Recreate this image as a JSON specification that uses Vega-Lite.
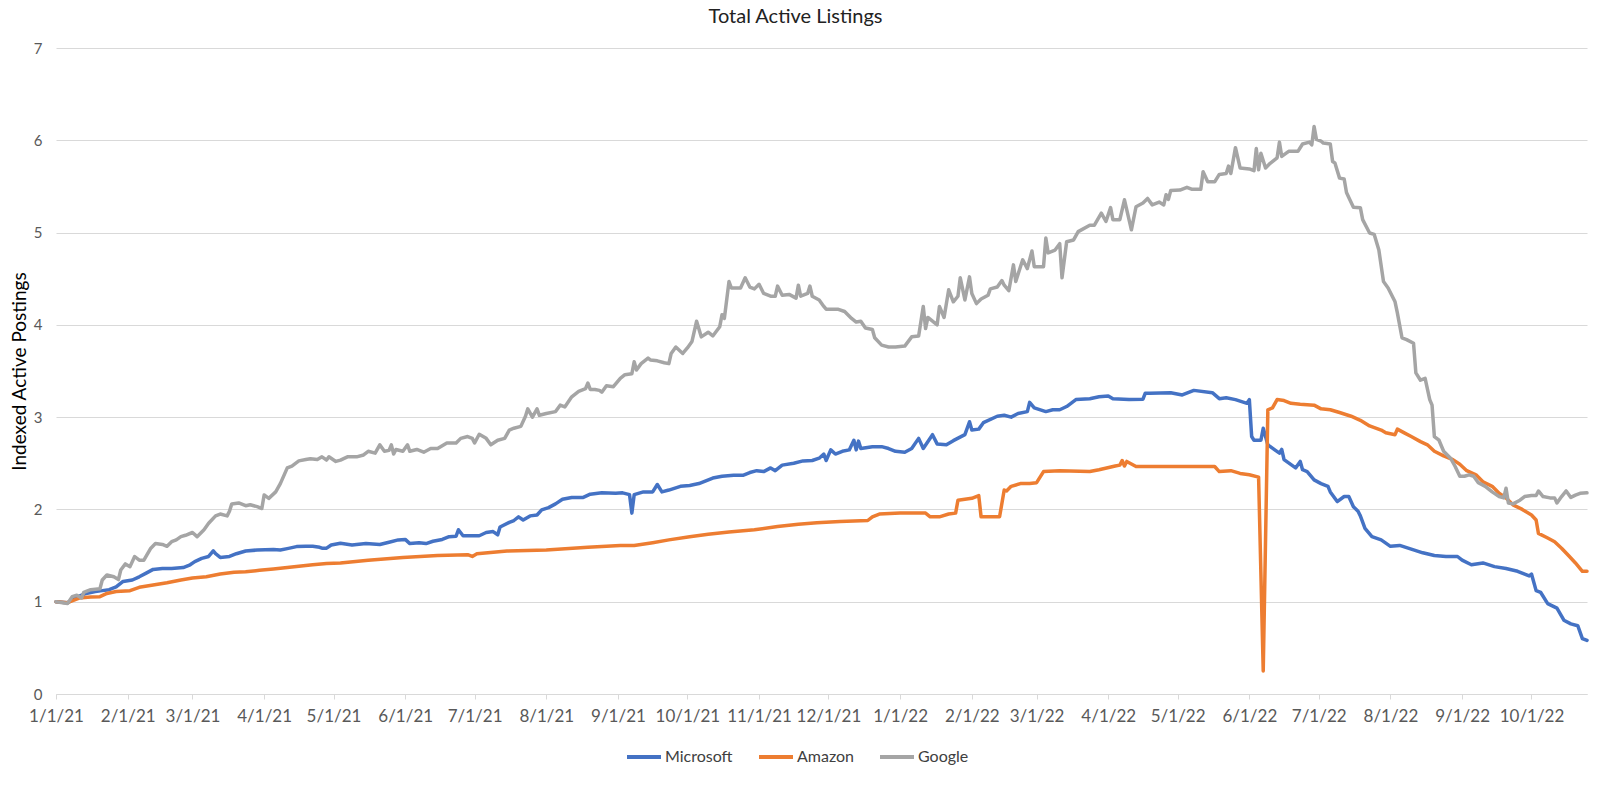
{
  "$schema": "https://vega.github.io/schema/vega-lite/v6.json",
  "autosize": {"type": "none"},
  "width": 1531,
  "height": 646,
  "padding": {"left": 56, "top": 48, "right": 13, "bottom": 91},
  "background": "white",
  "title": {"text": "Total Active Listings", "font": "Lato", "fontSize": 20, "fontWeight": "normal", "color": "#222222", "anchor": "middle", "dx": -26, "offset": 14},
  "config": {
    "view": {"stroke": null},
    "axis": {"labelFont": "Lato", "titleFont": "Lato", "labelColor": "#595959", "gridColor": "#d9d9d9", "gridWidth": 1, "domainColor": "#d9d9d9", "tickColor": "#d9d9d9"}
  },
  "data": {"values": [
    {"date":"2021-01-01","company":"Microsoft","value":1.00},
    {"date":"2021-01-06","company":"Microsoft","value":0.99},
    {"date":"2021-01-10","company":"Microsoft","value":1.05},
    {"date":"2021-01-14","company":"Microsoft","value":1.09},
    {"date":"2021-01-18","company":"Microsoft","value":1.11},
    {"date":"2021-01-21","company":"Microsoft","value":1.12},
    {"date":"2021-01-24","company":"Microsoft","value":1.13},
    {"date":"2021-01-27","company":"Microsoft","value":1.16},
    {"date":"2021-01-30","company":"Microsoft","value":1.22},
    {"date":"2021-02-03","company":"Microsoft","value":1.235},
    {"date":"2021-02-06","company":"Microsoft","value":1.27},
    {"date":"2021-02-09","company":"Microsoft","value":1.31},
    {"date":"2021-02-12","company":"Microsoft","value":1.35},
    {"date":"2021-02-16","company":"Microsoft","value":1.36},
    {"date":"2021-02-20","company":"Microsoft","value":1.36},
    {"date":"2021-02-25","company":"Microsoft","value":1.37},
    {"date":"2021-02-28","company":"Microsoft","value":1.40},
    {"date":"2021-03-02","company":"Microsoft","value":1.435},
    {"date":"2021-03-05","company":"Microsoft","value":1.47},
    {"date":"2021-03-08","company":"Microsoft","value":1.49},
    {"date":"2021-03-10","company":"Microsoft","value":1.55},
    {"date":"2021-03-11","company":"Microsoft","value":1.52},
    {"date":"2021-03-13","company":"Microsoft","value":1.48},
    {"date":"2021-03-17","company":"Microsoft","value":1.49},
    {"date":"2021-03-20","company":"Microsoft","value":1.52},
    {"date":"2021-03-24","company":"Microsoft","value":1.55},
    {"date":"2021-03-29","company":"Microsoft","value":1.56},
    {"date":"2021-04-05","company":"Microsoft","value":1.565},
    {"date":"2021-04-08","company":"Microsoft","value":1.56},
    {"date":"2021-04-11","company":"Microsoft","value":1.575},
    {"date":"2021-04-15","company":"Microsoft","value":1.597},
    {"date":"2021-04-19","company":"Microsoft","value":1.60},
    {"date":"2021-04-22","company":"Microsoft","value":1.60},
    {"date":"2021-04-25","company":"Microsoft","value":1.59},
    {"date":"2021-04-26","company":"Microsoft","value":1.58},
    {"date":"2021-04-28","company":"Microsoft","value":1.58},
    {"date":"2021-04-30","company":"Microsoft","value":1.615},
    {"date":"2021-05-04","company":"Microsoft","value":1.634},
    {"date":"2021-05-09","company":"Microsoft","value":1.615},
    {"date":"2021-05-15","company":"Microsoft","value":1.63},
    {"date":"2021-05-21","company":"Microsoft","value":1.62},
    {"date":"2021-05-25","company":"Microsoft","value":1.645},
    {"date":"2021-05-29","company":"Microsoft","value":1.67},
    {"date":"2021-06-01","company":"Microsoft","value":1.675},
    {"date":"2021-06-03","company":"Microsoft","value":1.63},
    {"date":"2021-06-07","company":"Microsoft","value":1.64},
    {"date":"2021-06-10","company":"Microsoft","value":1.63},
    {"date":"2021-06-13","company":"Microsoft","value":1.655},
    {"date":"2021-06-17","company":"Microsoft","value":1.675},
    {"date":"2021-06-20","company":"Microsoft","value":1.705},
    {"date":"2021-06-23","company":"Microsoft","value":1.71},
    {"date":"2021-06-24","company":"Microsoft","value":1.78},
    {"date":"2021-06-26","company":"Microsoft","value":1.715},
    {"date":"2021-07-03","company":"Microsoft","value":1.715},
    {"date":"2021-07-06","company":"Microsoft","value":1.75},
    {"date":"2021-07-09","company":"Microsoft","value":1.76},
    {"date":"2021-07-11","company":"Microsoft","value":1.725},
    {"date":"2021-07-12","company":"Microsoft","value":1.81},
    {"date":"2021-07-16","company":"Microsoft","value":1.86},
    {"date":"2021-07-18","company":"Microsoft","value":1.88},
    {"date":"2021-07-20","company":"Microsoft","value":1.92},
    {"date":"2021-07-22","company":"Microsoft","value":1.885},
    {"date":"2021-07-25","company":"Microsoft","value":1.93},
    {"date":"2021-07-28","company":"Microsoft","value":1.94},
    {"date":"2021-07-30","company":"Microsoft","value":1.995},
    {"date":"2021-08-02","company":"Microsoft","value":2.02},
    {"date":"2021-08-05","company":"Microsoft","value":2.06},
    {"date":"2021-08-08","company":"Microsoft","value":2.11},
    {"date":"2021-08-12","company":"Microsoft","value":2.13},
    {"date":"2021-08-17","company":"Microsoft","value":2.13},
    {"date":"2021-08-20","company":"Microsoft","value":2.165},
    {"date":"2021-08-25","company":"Microsoft","value":2.18},
    {"date":"2021-08-31","company":"Microsoft","value":2.175},
    {"date":"2021-09-03","company":"Microsoft","value":2.18},
    {"date":"2021-09-06","company":"Microsoft","value":2.16},
    {"date":"2021-09-07","company":"Microsoft","value":1.96},
    {"date":"2021-09-08","company":"Microsoft","value":2.16},
    {"date":"2021-09-12","company":"Microsoft","value":2.19},
    {"date":"2021-09-16","company":"Microsoft","value":2.19},
    {"date":"2021-09-18","company":"Microsoft","value":2.27},
    {"date":"2021-09-20","company":"Microsoft","value":2.19},
    {"date":"2021-09-23","company":"Microsoft","value":2.21},
    {"date":"2021-09-28","company":"Microsoft","value":2.25},
    {"date":"2021-10-02","company":"Microsoft","value":2.26},
    {"date":"2021-10-06","company":"Microsoft","value":2.28},
    {"date":"2021-10-09","company":"Microsoft","value":2.31},
    {"date":"2021-10-12","company":"Microsoft","value":2.34},
    {"date":"2021-10-16","company":"Microsoft","value":2.36},
    {"date":"2021-10-21","company":"Microsoft","value":2.37},
    {"date":"2021-10-25","company":"Microsoft","value":2.37},
    {"date":"2021-10-28","company":"Microsoft","value":2.40},
    {"date":"2021-10-31","company":"Microsoft","value":2.42},
    {"date":"2021-11-03","company":"Microsoft","value":2.41},
    {"date":"2021-11-06","company":"Microsoft","value":2.45},
    {"date":"2021-11-08","company":"Microsoft","value":2.42},
    {"date":"2021-11-11","company":"Microsoft","value":2.48},
    {"date":"2021-11-16","company":"Microsoft","value":2.50},
    {"date":"2021-11-20","company":"Microsoft","value":2.526},
    {"date":"2021-11-24","company":"Microsoft","value":2.53},
    {"date":"2021-11-27","company":"Microsoft","value":2.555},
    {"date":"2021-11-29","company":"Microsoft","value":2.60},
    {"date":"2021-11-30","company":"Microsoft","value":2.53},
    {"date":"2021-12-02","company":"Microsoft","value":2.645},
    {"date":"2021-12-04","company":"Microsoft","value":2.60},
    {"date":"2021-12-07","company":"Microsoft","value":2.63},
    {"date":"2021-12-10","company":"Microsoft","value":2.645},
    {"date":"2021-12-12","company":"Microsoft","value":2.75},
    {"date":"2021-12-13","company":"Microsoft","value":2.645},
    {"date":"2021-12-14","company":"Microsoft","value":2.74},
    {"date":"2021-12-15","company":"Microsoft","value":2.66},
    {"date":"2021-12-20","company":"Microsoft","value":2.68},
    {"date":"2021-12-24","company":"Microsoft","value":2.68},
    {"date":"2021-12-27","company":"Microsoft","value":2.66},
    {"date":"2021-12-30","company":"Microsoft","value":2.63},
    {"date":"2022-01-03","company":"Microsoft","value":2.62},
    {"date":"2022-01-06","company":"Microsoft","value":2.66},
    {"date":"2022-01-09","company":"Microsoft","value":2.77},
    {"date":"2022-01-11","company":"Microsoft","value":2.66},
    {"date":"2022-01-15","company":"Microsoft","value":2.81},
    {"date":"2022-01-17","company":"Microsoft","value":2.71},
    {"date":"2022-01-21","company":"Microsoft","value":2.70},
    {"date":"2022-01-24","company":"Microsoft","value":2.745},
    {"date":"2022-01-29","company":"Microsoft","value":2.81},
    {"date":"2022-01-31","company":"Microsoft","value":2.95},
    {"date":"2022-02-01","company":"Microsoft","value":2.86},
    {"date":"2022-02-04","company":"Microsoft","value":2.87},
    {"date":"2022-02-06","company":"Microsoft","value":2.94},
    {"date":"2022-02-12","company":"Microsoft","value":3.01},
    {"date":"2022-02-15","company":"Microsoft","value":3.02},
    {"date":"2022-02-18","company":"Microsoft","value":3.00},
    {"date":"2022-02-21","company":"Microsoft","value":3.04},
    {"date":"2022-02-25","company":"Microsoft","value":3.06},
    {"date":"2022-02-26","company":"Microsoft","value":3.16},
    {"date":"2022-02-28","company":"Microsoft","value":3.10},
    {"date":"2022-03-05","company":"Microsoft","value":3.06},
    {"date":"2022-03-08","company":"Microsoft","value":3.08},
    {"date":"2022-03-11","company":"Microsoft","value":3.08},
    {"date":"2022-03-14","company":"Microsoft","value":3.115},
    {"date":"2022-03-18","company":"Microsoft","value":3.19},
    {"date":"2022-03-24","company":"Microsoft","value":3.20},
    {"date":"2022-03-28","company":"Microsoft","value":3.22},
    {"date":"2022-04-01","company":"Microsoft","value":3.23},
    {"date":"2022-04-03","company":"Microsoft","value":3.20},
    {"date":"2022-04-10","company":"Microsoft","value":3.19},
    {"date":"2022-04-16","company":"Microsoft","value":3.195},
    {"date":"2022-04-17","company":"Microsoft","value":3.26},
    {"date":"2022-04-19","company":"Microsoft","value":3.26},
    {"date":"2022-04-28","company":"Microsoft","value":3.265},
    {"date":"2022-05-03","company":"Microsoft","value":3.24},
    {"date":"2022-05-08","company":"Microsoft","value":3.29},
    {"date":"2022-05-16","company":"Microsoft","value":3.265},
    {"date":"2022-05-19","company":"Microsoft","value":3.20},
    {"date":"2022-05-22","company":"Microsoft","value":3.21},
    {"date":"2022-05-26","company":"Microsoft","value":3.19},
    {"date":"2022-05-31","company":"Microsoft","value":3.15},
    {"date":"2022-06-01","company":"Microsoft","value":3.19},
    {"date":"2022-06-02","company":"Microsoft","value":2.79},
    {"date":"2022-06-03","company":"Microsoft","value":2.75},
    {"date":"2022-06-06","company":"Microsoft","value":2.75},
    {"date":"2022-06-07","company":"Microsoft","value":2.88},
    {"date":"2022-06-09","company":"Microsoft","value":2.70},
    {"date":"2022-06-12","company":"Microsoft","value":2.645},
    {"date":"2022-06-14","company":"Microsoft","value":2.61},
    {"date":"2022-06-15","company":"Microsoft","value":2.65},
    {"date":"2022-06-16","company":"Microsoft","value":2.54},
    {"date":"2022-06-21","company":"Microsoft","value":2.45},
    {"date":"2022-06-23","company":"Microsoft","value":2.52},
    {"date":"2022-06-24","company":"Microsoft","value":2.43},
    {"date":"2022-06-26","company":"Microsoft","value":2.41},
    {"date":"2022-06-29","company":"Microsoft","value":2.32},
    {"date":"2022-07-02","company":"Microsoft","value":2.28},
    {"date":"2022-07-05","company":"Microsoft","value":2.25},
    {"date":"2022-07-06","company":"Microsoft","value":2.19},
    {"date":"2022-07-09","company":"Microsoft","value":2.085},
    {"date":"2022-07-12","company":"Microsoft","value":2.14},
    {"date":"2022-07-14","company":"Microsoft","value":2.14},
    {"date":"2022-07-16","company":"Microsoft","value":2.03},
    {"date":"2022-07-18","company":"Microsoft","value":1.98},
    {"date":"2022-07-19","company":"Microsoft","value":1.93},
    {"date":"2022-07-21","company":"Microsoft","value":1.795},
    {"date":"2022-07-24","company":"Microsoft","value":1.705},
    {"date":"2022-07-28","company":"Microsoft","value":1.67},
    {"date":"2022-08-01","company":"Microsoft","value":1.60},
    {"date":"2022-08-05","company":"Microsoft","value":1.61},
    {"date":"2022-08-10","company":"Microsoft","value":1.57},
    {"date":"2022-08-15","company":"Microsoft","value":1.53},
    {"date":"2022-08-20","company":"Microsoft","value":1.50},
    {"date":"2022-08-25","company":"Microsoft","value":1.49},
    {"date":"2022-08-30","company":"Microsoft","value":1.49},
    {"date":"2022-09-01","company":"Microsoft","value":1.45},
    {"date":"2022-09-05","company":"Microsoft","value":1.40},
    {"date":"2022-09-10","company":"Microsoft","value":1.42},
    {"date":"2022-09-15","company":"Microsoft","value":1.38},
    {"date":"2022-09-20","company":"Microsoft","value":1.36},
    {"date":"2022-09-25","company":"Microsoft","value":1.33},
    {"date":"2022-09-30","company":"Microsoft","value":1.28},
    {"date":"2022-10-01","company":"Microsoft","value":1.30},
    {"date":"2022-10-03","company":"Microsoft","value":1.12},
    {"date":"2022-10-05","company":"Microsoft","value":1.10},
    {"date":"2022-10-08","company":"Microsoft","value":0.98},
    {"date":"2022-10-12","company":"Microsoft","value":0.93},
    {"date":"2022-10-15","company":"Microsoft","value":0.80},
    {"date":"2022-10-18","company":"Microsoft","value":0.76},
    {"date":"2022-10-21","company":"Microsoft","value":0.74},
    {"date":"2022-10-23","company":"Microsoft","value":0.60},
    {"date":"2022-10-25","company":"Microsoft","value":0.58},
    {"date":"2021-01-01","company":"Amazon","value":1.00},
    {"date":"2021-01-06","company":"Amazon","value":0.99},
    {"date":"2021-01-11","company":"Amazon","value":1.04},
    {"date":"2021-01-16","company":"Amazon","value":1.05},
    {"date":"2021-01-20","company":"Amazon","value":1.055},
    {"date":"2021-01-23","company":"Amazon","value":1.09},
    {"date":"2021-01-27","company":"Amazon","value":1.11},
    {"date":"2021-02-02","company":"Amazon","value":1.12},
    {"date":"2021-02-06","company":"Amazon","value":1.156},
    {"date":"2021-02-12","company":"Amazon","value":1.18},
    {"date":"2021-02-18","company":"Amazon","value":1.205},
    {"date":"2021-02-24","company":"Amazon","value":1.236},
    {"date":"2021-03-01","company":"Amazon","value":1.258},
    {"date":"2021-03-07","company":"Amazon","value":1.27},
    {"date":"2021-03-13","company":"Amazon","value":1.30},
    {"date":"2021-03-19","company":"Amazon","value":1.32},
    {"date":"2021-03-24","company":"Amazon","value":1.325},
    {"date":"2021-03-30","company":"Amazon","value":1.34},
    {"date":"2021-04-05","company":"Amazon","value":1.355},
    {"date":"2021-04-11","company":"Amazon","value":1.37},
    {"date":"2021-04-16","company":"Amazon","value":1.385},
    {"date":"2021-04-22","company":"Amazon","value":1.40},
    {"date":"2021-04-28","company":"Amazon","value":1.415},
    {"date":"2021-05-04","company":"Amazon","value":1.42},
    {"date":"2021-05-16","company":"Amazon","value":1.45},
    {"date":"2021-05-31","company":"Amazon","value":1.48},
    {"date":"2021-06-15","company":"Amazon","value":1.50},
    {"date":"2021-06-28","company":"Amazon","value":1.51},
    {"date":"2021-06-30","company":"Amazon","value":1.49},
    {"date":"2021-07-02","company":"Amazon","value":1.52},
    {"date":"2021-07-15","company":"Amazon","value":1.55},
    {"date":"2021-08-01","company":"Amazon","value":1.56},
    {"date":"2021-08-19","company":"Amazon","value":1.59},
    {"date":"2021-09-02","company":"Amazon","value":1.61},
    {"date":"2021-09-08","company":"Amazon","value":1.61},
    {"date":"2021-09-16","company":"Amazon","value":1.64},
    {"date":"2021-09-23","company":"Amazon","value":1.67},
    {"date":"2021-10-02","company":"Amazon","value":1.705},
    {"date":"2021-10-10","company":"Amazon","value":1.73},
    {"date":"2021-10-19","company":"Amazon","value":1.756},
    {"date":"2021-10-30","company":"Amazon","value":1.78},
    {"date":"2021-11-09","company":"Amazon","value":1.815},
    {"date":"2021-11-18","company":"Amazon","value":1.84},
    {"date":"2021-11-26","company":"Amazon","value":1.855},
    {"date":"2021-12-06","company":"Amazon","value":1.87},
    {"date":"2021-12-18","company":"Amazon","value":1.88},
    {"date":"2021-12-20","company":"Amazon","value":1.92},
    {"date":"2021-12-23","company":"Amazon","value":1.95},
    {"date":"2022-01-01","company":"Amazon","value":1.96},
    {"date":"2022-01-12","company":"Amazon","value":1.96},
    {"date":"2022-01-14","company":"Amazon","value":1.92},
    {"date":"2022-01-18","company":"Amazon","value":1.92},
    {"date":"2022-01-22","company":"Amazon","value":1.95},
    {"date":"2022-01-25","company":"Amazon","value":1.96},
    {"date":"2022-01-26","company":"Amazon","value":2.10},
    {"date":"2022-01-29","company":"Amazon","value":2.11},
    {"date":"2022-02-01","company":"Amazon","value":2.12},
    {"date":"2022-02-04","company":"Amazon","value":2.15},
    {"date":"2022-02-05","company":"Amazon","value":1.92},
    {"date":"2022-02-13","company":"Amazon","value":1.92},
    {"date":"2022-02-15","company":"Amazon","value":2.21},
    {"date":"2022-02-16","company":"Amazon","value":2.20},
    {"date":"2022-02-18","company":"Amazon","value":2.25},
    {"date":"2022-02-22","company":"Amazon","value":2.28},
    {"date":"2022-02-26","company":"Amazon","value":2.28},
    {"date":"2022-03-01","company":"Amazon","value":2.29},
    {"date":"2022-03-04","company":"Amazon","value":2.41},
    {"date":"2022-03-11","company":"Amazon","value":2.42},
    {"date":"2022-03-24","company":"Amazon","value":2.41},
    {"date":"2022-03-28","company":"Amazon","value":2.43},
    {"date":"2022-04-04","company":"Amazon","value":2.47},
    {"date":"2022-04-06","company":"Amazon","value":2.48},
    {"date":"2022-04-07","company":"Amazon","value":2.53},
    {"date":"2022-04-08","company":"Amazon","value":2.47},
    {"date":"2022-04-09","company":"Amazon","value":2.52},
    {"date":"2022-04-13","company":"Amazon","value":2.465},
    {"date":"2022-05-17","company":"Amazon","value":2.465},
    {"date":"2022-05-19","company":"Amazon","value":2.41},
    {"date":"2022-05-24","company":"Amazon","value":2.42},
    {"date":"2022-05-28","company":"Amazon","value":2.39},
    {"date":"2022-06-01","company":"Amazon","value":2.375},
    {"date":"2022-06-05","company":"Amazon","value":2.35},
    {"date":"2022-06-07","company":"Amazon","value":0.25},
    {"date":"2022-06-09","company":"Amazon","value":3.08},
    {"date":"2022-06-11","company":"Amazon","value":3.10},
    {"date":"2022-06-13","company":"Amazon","value":3.19},
    {"date":"2022-06-16","company":"Amazon","value":3.18},
    {"date":"2022-06-19","company":"Amazon","value":3.15},
    {"date":"2022-06-23","company":"Amazon","value":3.14},
    {"date":"2022-06-29","company":"Amazon","value":3.13},
    {"date":"2022-07-02","company":"Amazon","value":3.09},
    {"date":"2022-07-06","company":"Amazon","value":3.08},
    {"date":"2022-07-10","company":"Amazon","value":3.05},
    {"date":"2022-07-15","company":"Amazon","value":3.01},
    {"date":"2022-07-19","company":"Amazon","value":2.965},
    {"date":"2022-07-23","company":"Amazon","value":2.905},
    {"date":"2022-07-28","company":"Amazon","value":2.86},
    {"date":"2022-07-30","company":"Amazon","value":2.83},
    {"date":"2022-08-03","company":"Amazon","value":2.81},
    {"date":"2022-08-04","company":"Amazon","value":2.87},
    {"date":"2022-08-07","company":"Amazon","value":2.83},
    {"date":"2022-08-10","company":"Amazon","value":2.79},
    {"date":"2022-08-14","company":"Amazon","value":2.735},
    {"date":"2022-08-17","company":"Amazon","value":2.70},
    {"date":"2022-08-20","company":"Amazon","value":2.63},
    {"date":"2022-08-24","company":"Amazon","value":2.58},
    {"date":"2022-08-28","company":"Amazon","value":2.54},
    {"date":"2022-08-31","company":"Amazon","value":2.49},
    {"date":"2022-09-03","company":"Amazon","value":2.42},
    {"date":"2022-09-07","company":"Amazon","value":2.375},
    {"date":"2022-09-10","company":"Amazon","value":2.30},
    {"date":"2022-09-14","company":"Amazon","value":2.25},
    {"date":"2022-09-17","company":"Amazon","value":2.175},
    {"date":"2022-09-20","company":"Amazon","value":2.125},
    {"date":"2022-09-23","company":"Amazon","value":2.05},
    {"date":"2022-09-27","company":"Amazon","value":2.00},
    {"date":"2022-10-01","company":"Amazon","value":1.94},
    {"date":"2022-10-03","company":"Amazon","value":1.886},
    {"date":"2022-10-04","company":"Amazon","value":1.74},
    {"date":"2022-10-08","company":"Amazon","value":1.69},
    {"date":"2022-10-11","company":"Amazon","value":1.65},
    {"date":"2022-10-14","company":"Amazon","value":1.58},
    {"date":"2022-10-17","company":"Amazon","value":1.50},
    {"date":"2022-10-20","company":"Amazon","value":1.42},
    {"date":"2022-10-23","company":"Amazon","value":1.33},
    {"date":"2022-10-25","company":"Amazon","value":1.33},
    {"date":"2021-01-01","company":"Google","value":1.00},
    {"date":"2021-01-06","company":"Google","value":0.98},
    {"date":"2021-01-08","company":"Google","value":1.055},
    {"date":"2021-01-10","company":"Google","value":1.07},
    {"date":"2021-01-12","company":"Google","value":1.04},
    {"date":"2021-01-13","company":"Google","value":1.10},
    {"date":"2021-01-16","company":"Google","value":1.13},
    {"date":"2021-01-20","company":"Google","value":1.14},
    {"date":"2021-01-21","company":"Google","value":1.235},
    {"date":"2021-01-23","company":"Google","value":1.29},
    {"date":"2021-01-26","company":"Google","value":1.27},
    {"date":"2021-01-28","company":"Google","value":1.24},
    {"date":"2021-01-29","company":"Google","value":1.344},
    {"date":"2021-01-31","company":"Google","value":1.41},
    {"date":"2021-02-02","company":"Google","value":1.38},
    {"date":"2021-02-04","company":"Google","value":1.49},
    {"date":"2021-02-06","company":"Google","value":1.45},
    {"date":"2021-02-08","company":"Google","value":1.45},
    {"date":"2021-02-11","company":"Google","value":1.58},
    {"date":"2021-02-13","company":"Google","value":1.63},
    {"date":"2021-02-16","company":"Google","value":1.62},
    {"date":"2021-02-18","company":"Google","value":1.60},
    {"date":"2021-02-20","company":"Google","value":1.65},
    {"date":"2021-02-22","company":"Google","value":1.67},
    {"date":"2021-02-24","company":"Google","value":1.705},
    {"date":"2021-02-26","company":"Google","value":1.72},
    {"date":"2021-03-01","company":"Google","value":1.75},
    {"date":"2021-03-03","company":"Google","value":1.705},
    {"date":"2021-03-06","company":"Google","value":1.78},
    {"date":"2021-03-08","company":"Google","value":1.85},
    {"date":"2021-03-11","company":"Google","value":1.93},
    {"date":"2021-03-13","company":"Google","value":1.95},
    {"date":"2021-03-16","company":"Google","value":1.93},
    {"date":"2021-03-17","company":"Google","value":1.98},
    {"date":"2021-03-18","company":"Google","value":2.06},
    {"date":"2021-03-21","company":"Google","value":2.07},
    {"date":"2021-03-24","company":"Google","value":2.04},
    {"date":"2021-03-26","company":"Google","value":2.05},
    {"date":"2021-03-29","company":"Google","value":2.03},
    {"date":"2021-03-31","company":"Google","value":2.01},
    {"date":"2021-04-01","company":"Google","value":2.157},
    {"date":"2021-04-03","company":"Google","value":2.12},
    {"date":"2021-04-06","company":"Google","value":2.19},
    {"date":"2021-04-08","company":"Google","value":2.28},
    {"date":"2021-04-11","company":"Google","value":2.45},
    {"date":"2021-04-13","company":"Google","value":2.47},
    {"date":"2021-04-16","company":"Google","value":2.526},
    {"date":"2021-04-19","company":"Google","value":2.54},
    {"date":"2021-04-21","company":"Google","value":2.55},
    {"date":"2021-04-24","company":"Google","value":2.54},
    {"date":"2021-04-26","company":"Google","value":2.57},
    {"date":"2021-04-28","company":"Google","value":2.535},
    {"date":"2021-04-29","company":"Google","value":2.57},
    {"date":"2021-05-02","company":"Google","value":2.52},
    {"date":"2021-05-04","company":"Google","value":2.535},
    {"date":"2021-05-07","company":"Google","value":2.57},
    {"date":"2021-05-11","company":"Google","value":2.57},
    {"date":"2021-05-14","company":"Google","value":2.59},
    {"date":"2021-05-16","company":"Google","value":2.63},
    {"date":"2021-05-19","company":"Google","value":2.61},
    {"date":"2021-05-21","company":"Google","value":2.70},
    {"date":"2021-05-23","company":"Google","value":2.63},
    {"date":"2021-05-25","company":"Google","value":2.64},
    {"date":"2021-05-26","company":"Google","value":2.70},
    {"date":"2021-05-27","company":"Google","value":2.60},
    {"date":"2021-05-28","company":"Google","value":2.65},
    {"date":"2021-05-31","company":"Google","value":2.63},
    {"date":"2021-06-02","company":"Google","value":2.70},
    {"date":"2021-06-03","company":"Google","value":2.63},
    {"date":"2021-06-06","company":"Google","value":2.65},
    {"date":"2021-06-09","company":"Google","value":2.62},
    {"date":"2021-06-12","company":"Google","value":2.66},
    {"date":"2021-06-15","company":"Google","value":2.66},
    {"date":"2021-06-19","company":"Google","value":2.72},
    {"date":"2021-06-23","company":"Google","value":2.72},
    {"date":"2021-06-25","company":"Google","value":2.77},
    {"date":"2021-06-28","company":"Google","value":2.79},
    {"date":"2021-06-30","company":"Google","value":2.77},
    {"date":"2021-07-01","company":"Google","value":2.72},
    {"date":"2021-07-03","company":"Google","value":2.815},
    {"date":"2021-07-06","company":"Google","value":2.77},
    {"date":"2021-07-08","company":"Google","value":2.70},
    {"date":"2021-07-11","company":"Google","value":2.75},
    {"date":"2021-07-14","company":"Google","value":2.77},
    {"date":"2021-07-16","company":"Google","value":2.86},
    {"date":"2021-07-18","company":"Google","value":2.88},
    {"date":"2021-07-21","company":"Google","value":2.90},
    {"date":"2021-07-23","company":"Google","value":3.01},
    {"date":"2021-07-24","company":"Google","value":3.09},
    {"date":"2021-07-26","company":"Google","value":3.00},
    {"date":"2021-07-28","company":"Google","value":3.09},
    {"date":"2021-07-29","company":"Google","value":3.02},
    {"date":"2021-08-01","company":"Google","value":3.04},
    {"date":"2021-08-05","company":"Google","value":3.06},
    {"date":"2021-08-07","company":"Google","value":3.13},
    {"date":"2021-08-09","company":"Google","value":3.11},
    {"date":"2021-08-12","company":"Google","value":3.22},
    {"date":"2021-08-15","company":"Google","value":3.28},
    {"date":"2021-08-18","company":"Google","value":3.31},
    {"date":"2021-08-19","company":"Google","value":3.37},
    {"date":"2021-08-20","company":"Google","value":3.30},
    {"date":"2021-08-22","company":"Google","value":3.30},
    {"date":"2021-08-24","company":"Google","value":3.29},
    {"date":"2021-08-25","company":"Google","value":3.27},
    {"date":"2021-08-27","company":"Google","value":3.34},
    {"date":"2021-08-30","company":"Google","value":3.33},
    {"date":"2021-09-02","company":"Google","value":3.42},
    {"date":"2021-09-04","company":"Google","value":3.46},
    {"date":"2021-09-07","company":"Google","value":3.47},
    {"date":"2021-09-08","company":"Google","value":3.60},
    {"date":"2021-09-09","company":"Google","value":3.51},
    {"date":"2021-09-11","company":"Google","value":3.58},
    {"date":"2021-09-14","company":"Google","value":3.64},
    {"date":"2021-09-15","company":"Google","value":3.62},
    {"date":"2021-09-18","company":"Google","value":3.61},
    {"date":"2021-09-21","company":"Google","value":3.59},
    {"date":"2021-09-23","company":"Google","value":3.58},
    {"date":"2021-09-24","company":"Google","value":3.69},
    {"date":"2021-09-26","company":"Google","value":3.76},
    {"date":"2021-09-29","company":"Google","value":3.69},
    {"date":"2021-10-01","company":"Google","value":3.75},
    {"date":"2021-10-03","company":"Google","value":3.82},
    {"date":"2021-10-05","company":"Google","value":4.04},
    {"date":"2021-10-07","company":"Google","value":3.87},
    {"date":"2021-10-10","company":"Google","value":3.92},
    {"date":"2021-10-12","company":"Google","value":3.88},
    {"date":"2021-10-15","company":"Google","value":3.98},
    {"date":"2021-10-16","company":"Google","value":4.11},
    {"date":"2021-10-17","company":"Google","value":4.07},
    {"date":"2021-10-19","company":"Google","value":4.47},
    {"date":"2021-10-20","company":"Google","value":4.40},
    {"date":"2021-10-24","company":"Google","value":4.40},
    {"date":"2021-10-26","company":"Google","value":4.51},
    {"date":"2021-10-28","company":"Google","value":4.41},
    {"date":"2021-10-30","company":"Google","value":4.39},
    {"date":"2021-11-01","company":"Google","value":4.44},
    {"date":"2021-11-03","company":"Google","value":4.34},
    {"date":"2021-11-06","company":"Google","value":4.31},
    {"date":"2021-11-08","company":"Google","value":4.31},
    {"date":"2021-11-09","company":"Google","value":4.42},
    {"date":"2021-11-11","company":"Google","value":4.32},
    {"date":"2021-11-14","company":"Google","value":4.33},
    {"date":"2021-11-17","company":"Google","value":4.29},
    {"date":"2021-11-18","company":"Google","value":4.43},
    {"date":"2021-11-19","company":"Google","value":4.31},
    {"date":"2021-11-22","company":"Google","value":4.34},
    {"date":"2021-11-23","company":"Google","value":4.42},
    {"date":"2021-11-24","company":"Google","value":4.31},
    {"date":"2021-11-27","company":"Google","value":4.27},
    {"date":"2021-11-29","company":"Google","value":4.20},
    {"date":"2021-11-30","company":"Google","value":4.17},
    {"date":"2021-12-05","company":"Google","value":4.17},
    {"date":"2021-12-08","company":"Google","value":4.145},
    {"date":"2021-12-11","company":"Google","value":4.07},
    {"date":"2021-12-13","company":"Google","value":4.03},
    {"date":"2021-12-15","company":"Google","value":4.04},
    {"date":"2021-12-17","company":"Google","value":3.965},
    {"date":"2021-12-20","company":"Google","value":3.95},
    {"date":"2021-12-21","company":"Google","value":3.86},
    {"date":"2021-12-24","company":"Google","value":3.78},
    {"date":"2021-12-27","company":"Google","value":3.76},
    {"date":"2021-12-30","company":"Google","value":3.76},
    {"date":"2022-01-03","company":"Google","value":3.77},
    {"date":"2022-01-06","company":"Google","value":3.87},
    {"date":"2022-01-09","company":"Google","value":3.88},
    {"date":"2022-01-11","company":"Google","value":4.20},
    {"date":"2022-01-12","company":"Google","value":3.96},
    {"date":"2022-01-13","company":"Google","value":4.08},
    {"date":"2022-01-17","company":"Google","value":4.00},
    {"date":"2022-01-18","company":"Google","value":4.20},
    {"date":"2022-01-20","company":"Google","value":4.08},
    {"date":"2022-01-22","company":"Google","value":4.38},
    {"date":"2022-01-24","company":"Google","value":4.25},
    {"date":"2022-01-26","company":"Google","value":4.31},
    {"date":"2022-01-27","company":"Google","value":4.51},
    {"date":"2022-01-29","company":"Google","value":4.27},
    {"date":"2022-01-31","company":"Google","value":4.52},
    {"date":"2022-02-01","company":"Google","value":4.34},
    {"date":"2022-02-03","company":"Google","value":4.23},
    {"date":"2022-02-05","company":"Google","value":4.28},
    {"date":"2022-02-08","company":"Google","value":4.32},
    {"date":"2022-02-09","company":"Google","value":4.39},
    {"date":"2022-02-12","company":"Google","value":4.41},
    {"date":"2022-02-14","company":"Google","value":4.48},
    {"date":"2022-02-15","company":"Google","value":4.43},
    {"date":"2022-02-17","company":"Google","value":4.37},
    {"date":"2022-02-19","company":"Google","value":4.65},
    {"date":"2022-02-20","company":"Google","value":4.47},
    {"date":"2022-02-23","company":"Google","value":4.705},
    {"date":"2022-02-25","company":"Google","value":4.61},
    {"date":"2022-02-27","company":"Google","value":4.80},
    {"date":"2022-02-28","company":"Google","value":4.63},
    {"date":"2022-03-04","company":"Google","value":4.63},
    {"date":"2022-03-05","company":"Google","value":4.94},
    {"date":"2022-03-06","company":"Google","value":4.78},
    {"date":"2022-03-09","company":"Google","value":4.81},
    {"date":"2022-03-11","company":"Google","value":4.88},
    {"date":"2022-03-12","company":"Google","value":4.51},
    {"date":"2022-03-14","company":"Google","value":4.90},
    {"date":"2022-03-17","company":"Google","value":4.92},
    {"date":"2022-03-19","company":"Google","value":5.01},
    {"date":"2022-03-24","company":"Google","value":5.08},
    {"date":"2022-03-26","company":"Google","value":5.08},
    {"date":"2022-03-29","company":"Google","value":5.21},
    {"date":"2022-03-31","company":"Google","value":5.12},
    {"date":"2022-04-02","company":"Google","value":5.27},
    {"date":"2022-04-03","company":"Google","value":5.14},
    {"date":"2022-04-06","company":"Google","value":5.14},
    {"date":"2022-04-08","company":"Google","value":5.355},
    {"date":"2022-04-11","company":"Google","value":5.03},
    {"date":"2022-04-13","company":"Google","value":5.28},
    {"date":"2022-04-16","company":"Google","value":5.32},
    {"date":"2022-04-18","company":"Google","value":5.37},
    {"date":"2022-04-20","company":"Google","value":5.30},
    {"date":"2022-04-23","company":"Google","value":5.33},
    {"date":"2022-04-25","company":"Google","value":5.30},
    {"date":"2022-04-26","company":"Google","value":5.41},
    {"date":"2022-04-27","company":"Google","value":5.36},
    {"date":"2022-04-28","company":"Google","value":5.455},
    {"date":"2022-05-02","company":"Google","value":5.46},
    {"date":"2022-05-05","company":"Google","value":5.49},
    {"date":"2022-05-07","company":"Google","value":5.47},
    {"date":"2022-05-11","company":"Google","value":5.47},
    {"date":"2022-05-12","company":"Google","value":5.66},
    {"date":"2022-05-14","company":"Google","value":5.55},
    {"date":"2022-05-17","company":"Google","value":5.55},
    {"date":"2022-05-19","company":"Google","value":5.63},
    {"date":"2022-05-22","company":"Google","value":5.64},
    {"date":"2022-05-23","company":"Google","value":5.72},
    {"date":"2022-05-24","company":"Google","value":5.64},
    {"date":"2022-05-26","company":"Google","value":5.92},
    {"date":"2022-05-28","company":"Google","value":5.70},
    {"date":"2022-06-01","company":"Google","value":5.69},
    {"date":"2022-06-03","company":"Google","value":5.67},
    {"date":"2022-06-04","company":"Google","value":5.91},
    {"date":"2022-06-05","company":"Google","value":5.68},
    {"date":"2022-06-06","company":"Google","value":5.86},
    {"date":"2022-06-08","company":"Google","value":5.70},
    {"date":"2022-06-10","company":"Google","value":5.75},
    {"date":"2022-06-13","company":"Google","value":5.81},
    {"date":"2022-06-14","company":"Google","value":5.98},
    {"date":"2022-06-15","company":"Google","value":5.825},
    {"date":"2022-06-18","company":"Google","value":5.88},
    {"date":"2022-06-22","company":"Google","value":5.88},
    {"date":"2022-06-24","company":"Google","value":5.96},
    {"date":"2022-06-27","company":"Google","value":5.98},
    {"date":"2022-06-28","company":"Google","value":5.95},
    {"date":"2022-06-29","company":"Google","value":6.15},
    {"date":"2022-06-30","company":"Google","value":6.01},
    {"date":"2022-07-02","company":"Google","value":5.99},
    {"date":"2022-07-03","company":"Google","value":5.97},
    {"date":"2022-07-06","company":"Google","value":5.96},
    {"date":"2022-07-07","company":"Google","value":5.77},
    {"date":"2022-07-08","company":"Google","value":5.755},
    {"date":"2022-07-10","company":"Google","value":5.59},
    {"date":"2022-07-12","company":"Google","value":5.58},
    {"date":"2022-07-13","company":"Google","value":5.435},
    {"date":"2022-07-14","company":"Google","value":5.38},
    {"date":"2022-07-16","company":"Google","value":5.275},
    {"date":"2022-07-19","company":"Google","value":5.27},
    {"date":"2022-07-20","company":"Google","value":5.14},
    {"date":"2022-07-23","company":"Google","value":4.995},
    {"date":"2022-07-25","company":"Google","value":4.98},
    {"date":"2022-07-27","company":"Google","value":4.81},
    {"date":"2022-07-29","company":"Google","value":4.47},
    {"date":"2022-07-31","company":"Google","value":4.40},
    {"date":"2022-08-03","company":"Google","value":4.25},
    {"date":"2022-08-04","company":"Google","value":4.13},
    {"date":"2022-08-06","company":"Google","value":3.86},
    {"date":"2022-08-08","company":"Google","value":3.84},
    {"date":"2022-08-11","company":"Google","value":3.80},
    {"date":"2022-08-12","company":"Google","value":3.48},
    {"date":"2022-08-14","company":"Google","value":3.40},
    {"date":"2022-08-16","company":"Google","value":3.42},
    {"date":"2022-08-18","company":"Google","value":3.19},
    {"date":"2022-08-19","company":"Google","value":3.13},
    {"date":"2022-08-20","company":"Google","value":2.79},
    {"date":"2022-08-22","company":"Google","value":2.75},
    {"date":"2022-08-24","company":"Google","value":2.63},
    {"date":"2022-08-27","company":"Google","value":2.555},
    {"date":"2022-08-29","company":"Google","value":2.465},
    {"date":"2022-08-31","company":"Google","value":2.36},
    {"date":"2022-09-02","company":"Google","value":2.36},
    {"date":"2022-09-04","company":"Google","value":2.375},
    {"date":"2022-09-06","company":"Google","value":2.36},
    {"date":"2022-09-08","company":"Google","value":2.29},
    {"date":"2022-09-11","company":"Google","value":2.25},
    {"date":"2022-09-14","company":"Google","value":2.19},
    {"date":"2022-09-17","company":"Google","value":2.14},
    {"date":"2022-09-19","company":"Google","value":2.125},
    {"date":"2022-09-20","company":"Google","value":2.23},
    {"date":"2022-09-21","company":"Google","value":2.07},
    {"date":"2022-09-23","company":"Google","value":2.06},
    {"date":"2022-09-26","company":"Google","value":2.10},
    {"date":"2022-09-28","company":"Google","value":2.14},
    {"date":"2022-10-01","company":"Google","value":2.15},
    {"date":"2022-10-03","company":"Google","value":2.15},
    {"date":"2022-10-04","company":"Google","value":2.20},
    {"date":"2022-10-06","company":"Google","value":2.14},
    {"date":"2022-10-09","company":"Google","value":2.125},
    {"date":"2022-10-11","company":"Google","value":2.125},
    {"date":"2022-10-12","company":"Google","value":2.07},
    {"date":"2022-10-14","company":"Google","value":2.14},
    {"date":"2022-10-16","company":"Google","value":2.20},
    {"date":"2022-10-18","company":"Google","value":2.13},
    {"date":"2022-10-20","company":"Google","value":2.155},
    {"date":"2022-10-22","company":"Google","value":2.175},
    {"date":"2022-10-25","company":"Google","value":2.18}
  ]},
  "mark": {"type": "line", "strokeWidth": 3.5, "strokeJoin": "round", "strokeCap": "round"},
  "encoding": {
    "x": {
      "field": "date", "type": "temporal",
      "scale": {"type": "utc", "domain": [{"year": 2021, "month": 1, "date": 1, "utc": true}, {"year": 2022, "month": 10, "date": 25, "utc": true}]},
      "axis": {
        "title": null,
        "values": [
          {"year": 2021, "month": 1, "date": 1, "utc": true}, {"year": 2021, "month": 2, "date": 1, "utc": true}, {"year": 2021, "month": 3, "date": 1, "utc": true}, {"year": 2021, "month": 4, "date": 1, "utc": true}, {"year": 2021, "month": 5, "date": 1, "utc": true}, {"year": 2021, "month": 6, "date": 1, "utc": true}, {"year": 2021, "month": 7, "date": 1, "utc": true}, {"year": 2021, "month": 8, "date": 1, "utc": true}, {"year": 2021, "month": 9, "date": 1, "utc": true}, {"year": 2021, "month": 10, "date": 1, "utc": true}, {"year": 2021, "month": 11, "date": 1, "utc": true}, {"year": 2021, "month": 12, "date": 1, "utc": true},
          {"year": 2022, "month": 1, "date": 1, "utc": true}, {"year": 2022, "month": 2, "date": 1, "utc": true}, {"year": 2022, "month": 3, "date": 1, "utc": true}, {"year": 2022, "month": 4, "date": 1, "utc": true}, {"year": 2022, "month": 5, "date": 1, "utc": true}, {"year": 2022, "month": 6, "date": 1, "utc": true}, {"year": 2022, "month": 7, "date": 1, "utc": true}, {"year": 2022, "month": 8, "date": 1, "utc": true}, {"year": 2022, "month": 9, "date": 1, "utc": true}, {"year": 2022, "month": 10, "date": 1, "utc": true}
        ],
        "labelExpr": "utcFormat(datum.value, '%-m/%-d/%y')",
        "labelFontSize": 17, "labelPadding": 9, "tickSize": 5, "tickWidth": 1, "domainWidth": 1,
        "grid": false, "labelOverlap": false, "labelFlush": false
      }
    },
    "y": {
      "field": "value", "type": "quantitative",
      "scale": {"domain": [0, 7], "nice": false, "zero": true},
      "axis": {
        "title": "Indexed Active Postings", "titleFontSize": 19, "titleFontWeight": "normal", "titleColor": "#000000",
        "titleX": -37, "titleY": 323, "titleAngle": 270, "titleBaseline": "middle", "titleAlign": "center",
        "values": [0, 1, 2, 3, 4, 5, 6, 7], "grid": true, "domain": false, "ticks": false,
        "labelFontSize": 15, "labelPadding": 14
      }
    },
    "color": {
      "field": "company", "type": "nominal",
      "scale": {"domain": ["Microsoft", "Amazon", "Google"], "range": ["#4472C4", "#ED7D31", "#A5A5A5"]},
      "legend": {
        "title": null, "orient": "none", "legendX": 569, "legendY": 690, "direction": "horizontal",
        "symbolType": "stroke", "symbolSize": 1156, "symbolStrokeWidth": 4,
        "labelFont": "Lato", "labelFontSize": 16, "labelColor": "#404040", "labelOffset": 2,
        "columnPadding": 18, "padding": 0
      }
    }
  }
}
